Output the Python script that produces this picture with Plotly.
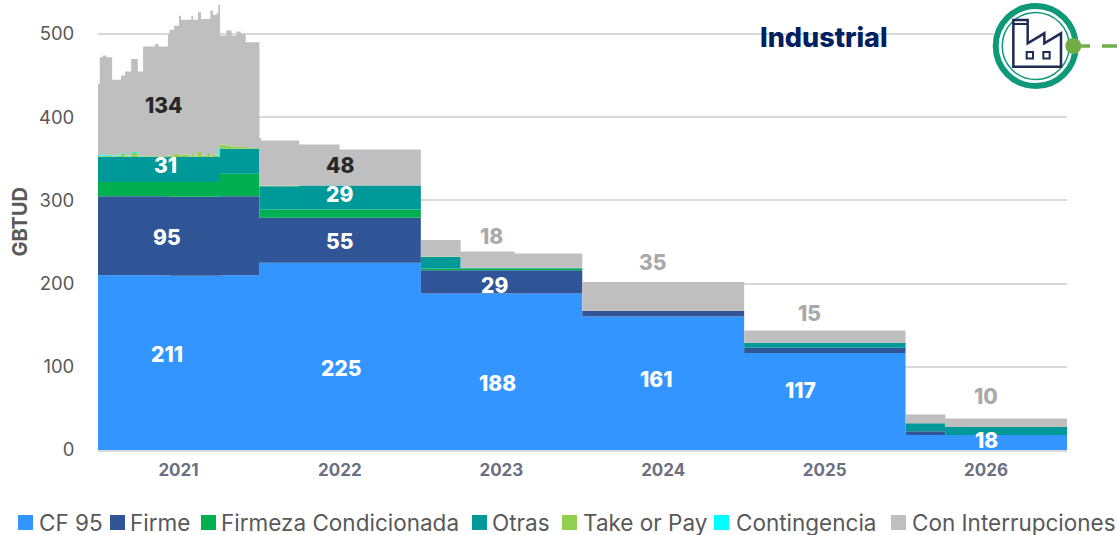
import plotly.graph_objects as go

W, H = 1117, 535
ML, MR, MT, MB = 98, 50, 0, 85
FONT = "Inter"

names = ["CF 95", "Firme", "Firmeza Condicionada", "Otras", "Take or Pay", "Contingencia", "Con Interrupciones"]
colors = ["#3395FF", "#2F5597", "#00B050", "#009999", "#92D050", "#00FFFF", "#BFBFBF"]

dates = ["2021-01-01", "2021-01-05", "2021-01-12", "2021-01-20", "2021-02-02", "2021-02-14", "2021-02-22",
         "2021-03-03", "2021-03-17", "2021-04-01", "2021-04-13", "2021-05-10", "2021-05-18", "2021-06-08",
         "2021-06-12", "2021-06-22", "2021-07-03", "2021-07-08", "2021-07-25", "2021-07-31", "2021-08-04",
         "2021-08-15", "2021-08-22", "2021-09-05", "2021-09-12", "2021-09-18", "2021-09-26", "2021-09-30",
         "2021-10-04", "2021-10-18", "2021-10-30", "2021-11-10", "2021-11-20", "2021-12-01",
         "2022-01-01", "2022-01-05", "2022-04-01", "2022-07-01",
         "2023-01-01", "2023-04-01", "2023-08-01",
         "2024-01-01", "2025-01-01", "2026-01-01", "2026-04-01", "2027-01-01"]

cf95 = [210, 210, 210, 210, 210, 210, 210, 210, 210, 210, 210, 210, 210, 210,
        209.5, 209.5, 209.5, 209.5, 209.5, 209.5, 209.5, 209.5, 209.5, 209.5, 209.5, 209.5, 209.5, 209.5,
        210, 210, 210, 210, 210, 210,
        225, 225, 225, 225,
        188, 188, 188,
        160.5, 116.5, 18, 18, 18]
firme = [95, 95, 95, 95, 95, 95, 95, 95, 95, 95, 95, 95, 95, 95,
         95, 95, 95, 95, 95, 95, 95, 95, 95, 95, 95, 95, 95, 95,
         95, 95, 95, 95, 95, 95,
         54, 54, 54, 54,
         28, 28, 28,
         6.5, 6.5, 4.5, 0, 0]
firmeza = [17, 17, 17, 17, 17, 17, 17, 17, 17, 17, 17, 17, 17, 17,
           17.5, 17.5, 17.5, 17.5, 17.5, 17.5, 17.5, 17.5, 17.5, 17.5, 17.5, 17.5, 17.5, 17.5,
           27, 27, 27, 27, 27, 27,
           10, 10, 10, 10,
           2, 2, 2,
           0, 0, 0, 0, 0]
otras = [30, 30, 30, 30, 30, 30, 30, 30, 30, 30, 30, 30, 30, 30,
         30, 30, 30, 30, 30, 30, 30, 30, 30, 30, 30, 30, 30, 30,
         30, 30, 30, 30, 30, 30,
         28, 28, 29, 29,
         14, 0.7, 0.7,
         0, 5.5, 9.7, 9.5, 9.5]
take_or_pay = [1, 1, 1, 1.5, 1, 2, 4, 1, 5, 1, 1, 1, 1, 1.5,
               2, 4, 2, 3, 1, 5, 1, 6, 2, 5, 1, 3, 2, 1,
               5, 4, 2, 3, 2, 1,
               1, 0.5, 0, 0,
               0.5, 0.3, 0.3,
               0, 0, 0, 0, 0]
contingencia = [1.5, 1, 2, 1, 1, 1, 1, 1, 1, 0.5, 0, 0, 0, 0,
                0, 0, 0, 0, 0, 0, 0, 0, 0, 0, 0, 0, 0, 10,
                0, 0, 0, 0, 0, 0,
                0, 0, 0, 0,
                0, 0, 0,
                0, 0, 0, 0, 0]
interrupciones = [85.5, 118, 119, 117.5, 91, 90, 93, 101, 112, 101.5, 132, 135, 132, 146.5,
                  151, 154, 168, 162, 164, 165, 164, 168, 164, 161, 175, 168, 171, 172,
                  131, 138, 134, 138, 136, 127,
                  57, 54.5, 49, 43,
                  20, 19.5, 17,
                  35, 15, 10.5, 10.5, 10.5]
series = [cf95, firme, firmeza, otras, take_or_pay, contingencia, interrupciones]

year_labels = ["2021", "2022", "2023", "2024", "2025", "2026"]
year_ticks = ["2021-07-02", "2022-07-02", "2023-07-02", "2024-07-02", "2025-07-02", "2026-07-02"]

WHITE, DARK, GREY = "#FFFFFF", "#262626", "#A9A9A9"
lab_text = ["134", "31", "95", "211", "48", "29", "55", "225", "18", "29", "188", "35", "161", "15", "117", "10", "18"]
lab_date = ["2021-05-30", "2021-06-02", "2021-06-05", "2021-06-05", "2022-07-02", "2022-07-02", "2022-07-02", "2022-07-05",
            "2023-06-10", "2023-06-17", "2023-06-24", "2024-06-07", "2024-06-16", "2025-05-29", "2025-05-09", "2026-07-02", "2026-07-02"]
lab_val = [414, 342, 255, 115, 342, 307, 251, 98, 257, 198, 80, 225, 85, 164, 71, 64, 12]
lab_col = [DARK, WHITE, WHITE, WHITE, DARK, WHITE, WHITE, WHITE, GREY, WHITE, WHITE, GREY, WHITE, GREY, WHITE, GREY, WHITE]

fig = go.Figure()
for n, c, v in zip(names, colors, series):
    fig.add_trace(go.Scatter(x=dates, y=v, name=n, stackgroup="one", mode="lines",
                             line=dict(width=0, shape="hv", color=c), fillcolor=c,
                             showlegend=False, hoverinfo="x+y+name"))

PW, PH = W - ML - MR, H - MT - MB
def px(x):
    return (x - ML) / PW
def py(y):
    return 1 - (y - MT) / PH

shapes, annos = [], []
def circle(cx, cy, r, fill=None, line=None, lw=0):
    shapes.append(dict(type="circle", xref="paper", yref="paper", layer="above",
                       x0=px(cx - r), x1=px(cx + r), y0=py(cy + r), y1=py(cy - r),
                       fillcolor=fill or "rgba(0,0,0,0)",
                       line=dict(color=line or "rgba(0,0,0,0)", width=lw)))
def poly(pts, color, lw, close=True, fill=None):
    d = "M" + " L".join(f"{px(x):.5f},{py(y):.5f}" for x, y in pts) + (" Z" if close else "")
    shapes.append(dict(type="path", xref="paper", yref="paper", layer="above", path=d,
                       fillcolor=fill or "rgba(0,0,0,0)", line=dict(color=color, width=lw)))

GREEN_RING, NAVY, DOT = "#0E9A78", "#1F2A55", "#70AD47"
CX, CY = 1035.7, 46
circle(CX, CY, 40, fill="#FFFFFF", line=GREEN_RING, lw=6)
circle(CX, CY, 33.5, line=GREEN_RING, lw=1.5)
ix = lambda z: 985 + z / 3
poly([(ix(a), b / 3) for a, b in [(85, 200), (85, 60), (128, 60), (128, 130), (178, 100), (178, 130), (228, 100), (228, 200)]], NAVY, 2.5)
poly([(ix(85), 24), (ix(128), 24)], NAVY, 2, close=False)
for a in (125, 175):
    poly([(ix(a), 52), (ix(a + 19), 52), (ix(a + 19), 58.5), (ix(a), 58.5)], NAVY, 2)
poly([(1073, 46), (1090, 46)], DOT, 3.5, close=False)
poly([(1102, 46), (1117, 46)], DOT, 3.5, close=False)
circle(1073.3, 46, 8, fill=DOT)

sq_x = [18, 110, 201, 472, 562, 714, 891]
txt_x = [37, 128, 219, 490, 581, 734, 910]
for n, c, s, t in zip(names, colors, sq_x, txt_x):
    shapes.append(dict(type="rect", xref="paper", yref="paper", layer="above",
                       x0=px(s), x1=px(s + 15), y0=py(530), y1=py(515), fillcolor=c, line=dict(width=0)))
    annos.append(dict(xref="paper", yref="paper", x=px(t), y=py(522), text=n, showarrow=False,
                      xanchor="left", yanchor="middle", font=dict(family=FONT, size=22.5, color="#595959")))

for t, d, v, c in zip(lab_text, lab_date, lab_val, lab_col):
    annos.append(dict(x=d, y=v, text=t, showarrow=False, xanchor="center", yanchor="middle",
                      font=dict(family=FONT, size=21, color=c, weight=800)))

annos.append(dict(xref="paper", yref="paper", x=px(758), y=py(38), text="Industrial", showarrow=False,
                  xanchor="left", yanchor="middle", font=dict(family=FONT, size=27, color="#002060", weight=800)))
annos.append(dict(xref="paper", yref="paper", x=px(19), y=py(221.5), text="<b>GBTUD</b>", textangle=-90, showarrow=False,
                  xanchor="center", yanchor="middle", font=dict(family=FONT, size=20, color="#595959")))

fig.update_layout(
    width=W, height=H, margin=dict(l=ML, r=MR, t=MT, b=MB, pad=0), showlegend=False,
    paper_bgcolor="#FFFFFF", plot_bgcolor="#FFFFFF", shapes=shapes, annotations=annos,
    font=dict(family=FONT),
    xaxis=dict(type="date", range=["2021-01-01", "2027-01-01"], tickmode="array", tickvals=year_ticks,
               ticktext=[f"<b>{y}</b>" for y in year_labels], tickfont=dict(family=FONT, size=17, color="#6B7080"),
               showgrid=False, showline=True, linecolor="#D9D9D9", linewidth=2,
               ticks="outside", ticklen=4, tickcolor="rgba(0,0,0,0)"),
    yaxis=dict(range=[0, 540.8], tickmode="array", tickvals=[0, 100, 200, 300, 400, 500],
               tickfont=dict(family=FONT, size=18.5, color="#595959"), gridcolor="#D9D9D9", gridwidth=2,
               zeroline=False, showline=False, ticks="outside", ticklen=19, tickcolor="rgba(0,0,0,0)"),
)
fig.write_html("out.html", config={"displayModeBar": False},
               post_script="document.body.style.margin='0';window.dispatchEvent(new Event('resize'));")
